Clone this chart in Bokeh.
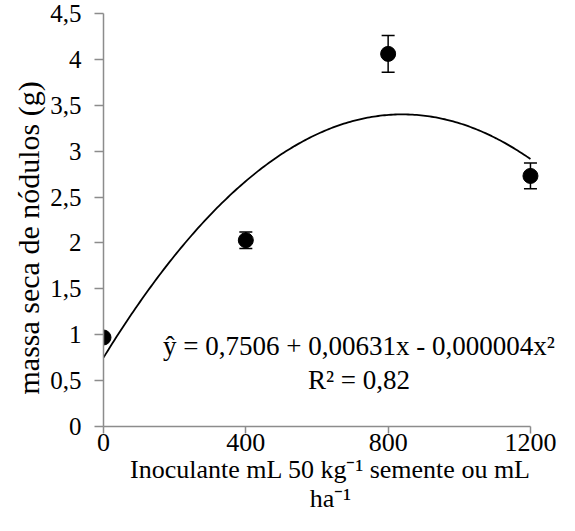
import numpy as np
from bokeh.plotting import figure
from bokeh.models import ColumnDataSource, Whisker, TeeHead, Label, FixedTicker, Title
from bokeh.embed import file_html
from bokeh.resources import INLINE

# data
doses = [0, 400, 800, 1200]
massa = [0.97, 2.03, 4.06, 2.73]
erro = [0.0, 0.09, 0.2, 0.14]
x_ticks = [0, 400, 800, 1200]
y_ticks = [0, 0.5, 1, 1.5, 2, 2.5, 3, 3.5, 4, 4.5]
y_tick_labels = ["0", "0,5", "1", "1,5", "2", "2,5", "3", "3,5", "4", "4,5"]
# trendline coefficients (unrounded estimate of the displayed equation)
coef_a = 0.7506
coef_b = 0.00631
coef_c = -0.000003756
eq_text = "ŷ = 0,7506 + 0,00631x - 0,000004x²"
r2_text = "R² = 0,82"
x_title = "Inoculante mL 50 kg⁻¹ semente ou mL\nha⁻¹"
y_title = "massa seca de nódulos (g)"

FONT = "Liberation Serif"
AX = "#8c8c8c"

p = figure(width=559, height=515, output_backend="svg", toolbar_location=None,
           x_range=(0, 1276), y_range=(0, 4.5),
           min_border_left=103, min_border_right=2, min_border_top=13, min_border_bottom=88)
p.outline_line_color = None
p.xgrid.visible = False
p.ygrid.visible = False
p.background_fill_color = "white"
p.border_fill_color = "white"

p.xaxis.ticker = FixedTicker(ticks=x_ticks)
p.yaxis.ticker = FixedTicker(ticks=y_ticks)
p.yaxis.major_label_overrides = {t: l for t, l in zip(y_ticks, y_tick_labels)}
p.xaxis.bounds = (0, 1200)

for ax in (p.xaxis[0], p.yaxis[0]):
    ax.axis_line_color = AX
    ax.axis_line_width = 1.5
    ax.major_tick_line_color = AX
    ax.major_tick_line_width = 1.5
    ax.major_tick_in = 0
    ax.minor_tick_line_color = None
    ax.major_label_text_font = FONT
    ax.major_label_text_color = "black"
    ax.axis_label_text_font = FONT
    ax.axis_label_text_font_style = "normal"
    ax.axis_label_text_color = "black"

p.xaxis.major_tick_out = 7
p.yaxis.major_tick_out = 9
p.xaxis.major_label_text_font_size = "26px"
p.yaxis.major_label_text_font_size = "25px"
p.xaxis.axis_label_text_font_size = "26px"
p.xaxis.axis_label_text_line_height = 1.0
p.xaxis.axis_label = x_title
p.xaxis.major_label_standoff = 0
p.yaxis.major_label_standoff = 13
p.xaxis.axis_label_standoff = 1

p.add_layout(Title(text=y_title, align="left", offset=32, standoff=6,
                   text_font=FONT, text_font_size="30px", text_font_style="normal",
                   text_color="black"), "left")

# trendline
xs = np.linspace(0, 1200, 200)
ys = coef_a + coef_b * xs + coef_c * xs ** 2
p.line(xs, ys, line_color="black", line_width=1.8)

# error bars
src = ColumnDataSource(dict(x=doses, y=massa,
                            lo=[m - e for m, e in zip(massa, erro)],
                            hi=[m + e for m, e in zip(massa, erro)]))
w = Whisker(source=src, base="x", lower="lo", upper="hi", line_color="black", line_width=1.5,
            lower_head=TeeHead(size=13, line_color="black", line_width=1.5),
            upper_head=TeeHead(size=13, line_color="black", line_width=1.5))
p.add_layout(w)

p.scatter("x", "y", source=src, size=15, marker="circle", fill_color="black", line_color="black")

p.add_layout(Label(x=718, y=0.88, text=eq_text, text_align="center", text_baseline="middle",
                   text_font=FONT, text_font_size="27px", text_color="black"))
p.add_layout(Label(x=718, y=0.51, text=r2_text, text_align="center", text_baseline="middle",
                   text_font=FONT, text_font_size="27px", text_color="black"))

open("out.html", "w").write(file_html(p, INLINE))
